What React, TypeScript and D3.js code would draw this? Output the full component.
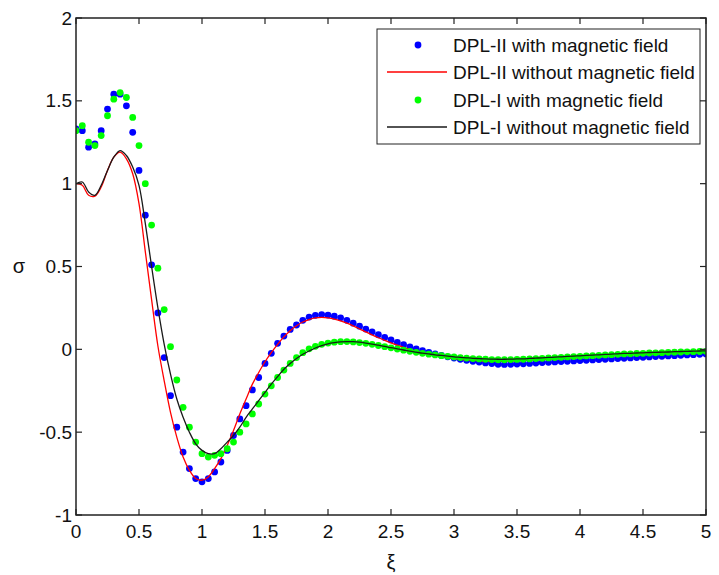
import React from "react";
import * as d3 from "d3";

// ξ sample positions (step 0.05 from 0 to 5)
const XI: number[] = d3.range(101).map((i) => +(i * 0.05).toFixed(2));

const DPL2_WITH: number[] = [
  1.33, 1.32, 1.22, 1.24, 1.32, 1.45, 1.54, 1.54, 1.47, 1.31,
  1.08, 0.81, 0.51, 0.22, -0.05, -0.28, -0.47, -0.62, -0.72, -0.78,
  -0.80, -0.78, -0.74, -0.68, -0.61, -0.52, -0.42, -0.34, -0.245, -0.17,
  -0.085, -0.024, 0.036, 0.08, 0.12, 0.147, 0.175, 0.195, 0.205, 0.21,
  0.207, 0.2, 0.19, 0.175, 0.158, 0.14, 0.122, 0.105, 0.088, 0.072,
  0.057, 0.042, 0.028, 0.015, 0.003, -0.008, -0.018, -0.028, -0.037, -0.045,
  -0.053, -0.06, -0.066, -0.072, -0.077, -0.082, -0.086, -0.09, -0.091, -0.09,
  -0.089, -0.087, -0.085, -0.083, -0.08, -0.078, -0.076, -0.074, -0.072, -0.07,
  -0.068, -0.066, -0.064, -0.062, -0.06, -0.058, -0.056, -0.054, -0.052, -0.05,
  -0.048, -0.046, -0.044, -0.042, -0.04, -0.038, -0.036, -0.034, -0.032, -0.03,
  -0.028,
];

const DPL2_WITHOUT: number[] = [
  1.0, 0.99, 0.93, 0.925, 0.98, 1.08, 1.16, 1.19, 1.15, 1.06,
  0.88, 0.59, 0.3, 0.02, -0.19, -0.38, -0.53, -0.65, -0.73, -0.78,
  -0.79, -0.77, -0.72, -0.66, -0.58, -0.49, -0.39, -0.3, -0.21, -0.14,
  -0.075, -0.02, 0.03, 0.075, 0.112, 0.142, 0.165, 0.18, 0.19, 0.193,
  0.19, 0.183, 0.172, 0.158, 0.142, 0.124, 0.105, 0.087, 0.07, 0.054,
  0.039, 0.025, 0.012, 0.0, -0.011, -0.021, -0.03, -0.038, -0.045, -0.051,
  -0.056, -0.06, -0.064, -0.067, -0.069, -0.071, -0.072, -0.072, -0.072, -0.071,
  -0.07, -0.068, -0.066, -0.064, -0.062, -0.06, -0.058, -0.056, -0.054, -0.052,
  -0.05, -0.048, -0.046, -0.044, -0.042, -0.04, -0.038, -0.036, -0.034, -0.032,
  -0.031, -0.03, -0.028, -0.027, -0.026, -0.024, -0.023, -0.022, -0.021, -0.02,
  -0.019,
];

const DPL1_WITH: number[] = [
  1.32, 1.35, 1.25, 1.23, 1.29, 1.41, 1.51, 1.55, 1.52, 1.4,
  1.23, 1.0, 0.75, 0.49, 0.24, 0.016, -0.185, -0.35, -0.47, -0.56,
  -0.63, -0.65, -0.64, -0.63, -0.6, -0.56, -0.5, -0.45, -0.39, -0.33,
  -0.27, -0.22, -0.17, -0.125, -0.085, -0.05, -0.02, 0.003, 0.018, 0.03,
  0.038, 0.043, 0.046, 0.047, 0.045, 0.041, 0.036, 0.03, 0.023, 0.016,
  0.009, 0.002, -0.005, -0.012, -0.018, -0.024, -0.029, -0.034, -0.038, -0.042,
  -0.046, -0.05, -0.053, -0.056, -0.058, -0.06, -0.062, -0.063, -0.063, -0.062,
  -0.061, -0.06, -0.058, -0.056, -0.054, -0.052, -0.05, -0.048, -0.046, -0.044,
  -0.042, -0.04, -0.038, -0.036, -0.034, -0.032, -0.03, -0.028, -0.027, -0.025,
  -0.024, -0.022, -0.021, -0.02, -0.018, -0.017, -0.016, -0.015, -0.014, -0.013,
  -0.012,
];

const DPL1_WITHOUT: number[] = [
  1.0, 1.01, 0.95, 0.93, 0.99, 1.08, 1.16, 1.2, 1.17, 1.1,
  0.99, 0.76, 0.5, 0.25, 0.03, -0.15, -0.3, -0.41, -0.5, -0.57,
  -0.61, -0.63, -0.63, -0.6, -0.56, -0.52, -0.47, -0.41, -0.36, -0.31,
  -0.26, -0.21, -0.165, -0.12, -0.085, -0.055, -0.03, -0.01, 0.008, 0.022,
  0.033, 0.04, 0.045, 0.047, 0.046, 0.043, 0.038, 0.032, 0.025, 0.018,
  0.01, 0.003, -0.004, -0.011, -0.017, -0.023, -0.028, -0.033, -0.037, -0.041,
  -0.045, -0.048, -0.051, -0.054, -0.056, -0.058, -0.059, -0.06, -0.06, -0.059,
  -0.058, -0.057, -0.055, -0.053, -0.051, -0.049, -0.047, -0.045, -0.043, -0.041,
  -0.039, -0.037, -0.035, -0.033, -0.031, -0.029, -0.027, -0.025, -0.024, -0.022,
  -0.021, -0.019, -0.018, -0.017, -0.016, -0.014, -0.013, -0.012, -0.011, -0.01,
  -0.009,
];

const X_TICKS: number[] = [0, 0.5, 1, 1.5, 2, 2.5, 3, 3.5, 4, 4.5, 5];
const X_TICK_LABELS: string[] = ["0", "0.5", "1", "1.5", "2", "2.5", "3", "3.5", "4", "4.5", "5"];
const Y_TICKS: number[] = [-1, -0.5, 0, 0.5, 1, 1.5, 2];
const Y_TICK_LABELS: string[] = ["-1", "-0.5", "0", "0.5", "1", "1.5", "2"];

const LEGEND_LABELS: string[] = [
  "DPL-II with magnetic field",
  "DPL-II without magnetic field",
  "DPL-I with magnetic field",
  "DPL-I without magnetic field",
];

const FONT = "'Liberation Sans', Arial, sans-serif";

export default function App() {
  const W = 719;
  const H = 575;
  const L = 76, R = 706, T = 18, B = 515;
  const x = d3.scaleLinear().domain([0, 5]).range([L, R]);
  const y = d3.scaleLinear().domain([-1, 2]).range([B, T]);

  const line = d3
    .line<number>()
    .x((_, i) => x(XI[i]))
    .y((d) => y(d))
    .curve(d3.curveCatmullRom.alpha(0.5));

  const axisColor = "#222";
  const tickLen = 6;

  const series = [
    { type: "dots", data: DPL2_WITH, color: "#0000ff" },
    { type: "line", data: DPL2_WITHOUT, color: "#ff0000" },
    { type: "dots", data: DPL1_WITH, color: "#00ff00" },
    { type: "line", data: DPL1_WITHOUT, color: "#1a1a1a" },
  ];

  const legX = 377, legY = 29, legW = 323, legH = 115;
  const rowY = [45, 72, 100, 127];

  return (
    <svg
      width={W}
      height={H}
      style={{ position: "absolute", left: 0, top: 0, background: "#fff" }}
      fontFamily={FONT}
    >
      <rect x={0} y={0} width={W} height={H} fill="#fff" />
      <defs>
        <clipPath id="plotclip">
          <rect x={L} y={T} width={R - L} height={B - T} />
        </clipPath>
      </defs>

      <g clipPath="url(#plotclip)">
        {series.map((s, si) =>
          s.type === "line" ? (
            <path key={si} d={line(s.data) || ""} fill="none" stroke={s.color} strokeWidth={1.3} />
          ) : (
            <g key={si}>
              {s.data.map((v, i) => (
                <circle key={i} cx={x(XI[i])} cy={y(v)} r={3.4} fill={s.color} />
              ))}
            </g>
          )
        )}
      </g>

      {/* frame */}
      <rect x={L} y={T} width={R - L} height={B - T} fill="none" stroke={axisColor} strokeWidth={1.5} />

      {/* x ticks */}
      {X_TICKS.map((t, i) => (
        <g key={"xt" + i}>
          <line x1={x(t)} x2={x(t)} y1={B} y2={B - tickLen} stroke={axisColor} strokeWidth={1.2} />
          <line x1={x(t)} x2={x(t)} y1={T} y2={T + tickLen} stroke={axisColor} strokeWidth={1.2} />
          <text x={x(t)} y={538} textAnchor="middle" fontSize={19} fill="#111">
            {X_TICK_LABELS[i]}
          </text>
        </g>
      ))}

      {/* y ticks */}
      {Y_TICKS.map((t, i) => (
        <g key={"yt" + i}>
          <line x1={L} x2={L + tickLen} y1={y(t)} y2={y(t)} stroke={axisColor} strokeWidth={1.2} />
          <line x1={R} x2={R - tickLen} y1={y(t)} y2={y(t)} stroke={axisColor} strokeWidth={1.2} />
          <text x={72} y={y(t)} dy="0.35em" textAnchor="end" fontSize={19} fill="#111">
            {Y_TICK_LABELS[i]}
          </text>
        </g>
      ))}

      {/* axis labels */}
      <text x={(L + R) / 2} y={562} dy="0.35em" textAnchor="middle" fontSize={20} fill="#111">
        ξ
      </text>
      <text x={19} y={266} dy="0.35em" textAnchor="middle" fontSize={20} fill="#111">
        σ
      </text>

      {/* legend */}
      <rect x={legX} y={legY} width={legW} height={legH} fill="#fff" stroke={axisColor} strokeWidth={1} />
      {series.map((s, i) => (
        <g key={"lg" + i}>
          {s.type === "line" ? (
            <line x1={387} x2={447} y1={rowY[i]} y2={rowY[i]} stroke={s.color} strokeWidth={1.3} />
          ) : (
            <circle cx={418} cy={rowY[i]} r={3.4} fill={s.color} />
          )}
          <text x={453} y={rowY[i]} dy="0.35em" fontSize={19} fill="#111">
            {LEGEND_LABELS[i]}
          </text>
        </g>
      ))}
    </svg>
  );
}
